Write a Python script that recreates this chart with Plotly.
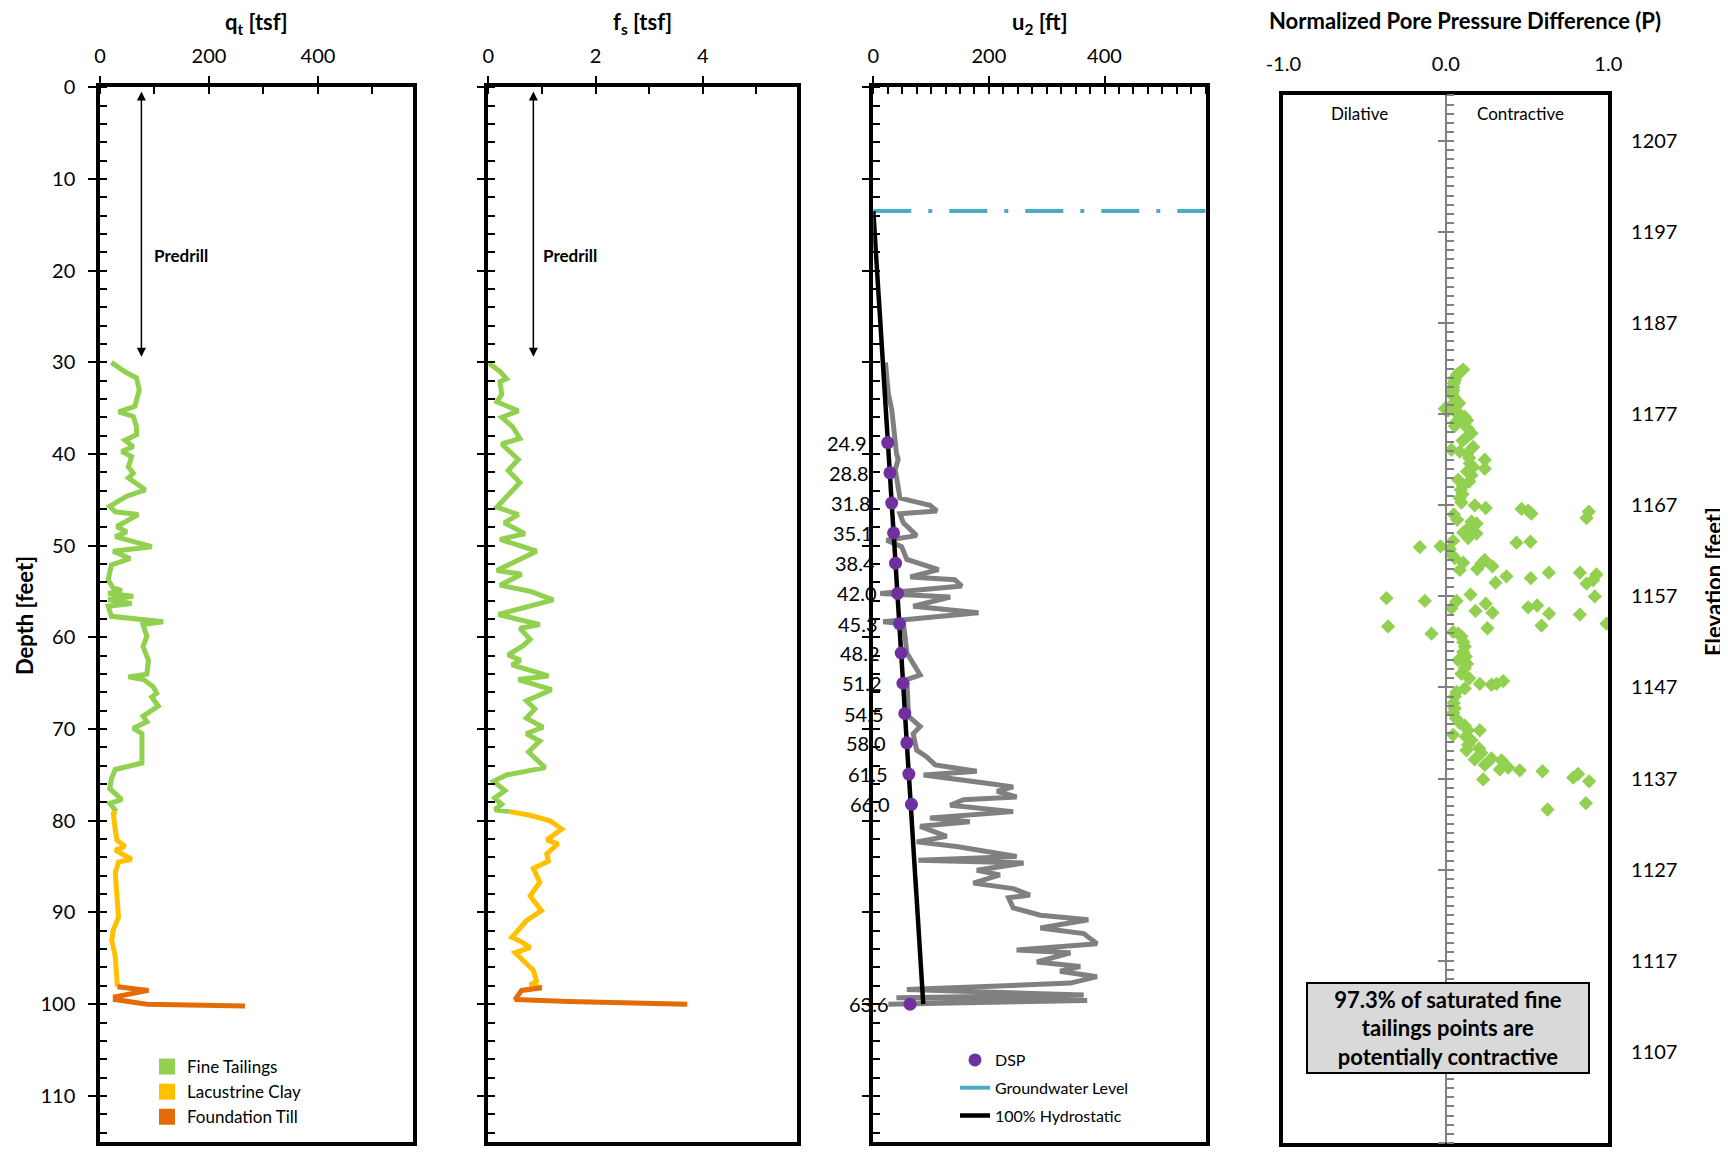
import plotly.graph_objects as go

W, H = 1728, 1153          # browser window
OFF = 8                    # default page body margin
FW, FH = W - OFF, H - OFF  # figure fills the window to its right/bottom edge
FONT = "Lato, 'Open Sans', sans-serif"

# ------------------------------------------------------------------ data
# q_t [tsf] vs depth [ft]
QT_TAIL_DEPTH = [30.0, 31.0, 31.7, 33.0, 34.8, 35.4, 35.9, 37.0, 37.9, 38.5, 39.2, 39.7, 40.3, 41.4,
                 42.1, 42.6, 43.9, 44.6, 45.7, 46.3, 46.6, 47.9, 48.5, 49.0, 50.1, 50.6, 51.4, 52.1,
                 53.7, 54.6, 54.9, 55.2, 55.5, 55.9, 56.3, 56.6, 57.7, 58.3, 58.6, 59.9, 61.0, 62.5,
                 64.0, 64.3, 64.6, 65.4, 66.1, 66.5, 67.5, 68.6, 69.2, 69.9, 70.5, 71.9, 73.7, 74.4,
                 75.4, 76.5, 77.7, 78.1, 79.0]
QT_TAIL = [21, 45, 67, 72, 64, 34, 61, 67, 67, 46, 61, 40, 58, 52,
           61, 52, 83, 49, 18, 28, 70, 31, 49, 28, 95, 24, 55, 21,
           15, 24, 40, 15, 61, 15, 58, 15, 21, 116, 79, 86, 79, 89,
           86, 52, 80, 98, 104, 95, 107, 79, 86, 61, 77, 77, 77, 28,
           21, 18, 40, 18, 30]
QT_CLAY_DEPTH = [79.0, 79.2, 81.0, 82.1, 82.8, 83.2, 84.2, 84.5, 85.7, 88.3, 90.5, 91.9, 93.0, 94.8, 96.6, 98.1]
QT_CLAY = [30, 24.5, 28, 31, 46, 28, 58, 34, 28, 31, 34, 24.5, 21.5, 28, 31, 32]
QT_TILL_DEPTH = [98.1, 98.3, 98.5, 99.2, 99.5, 100.0, 100.2]
QT_TILL = [32, 60, 89, 28, 28, 86, 266]

# f_s [tsf] vs depth [ft]
FS_TAIL_DEPTH = [30.05, 31.0, 31.8, 32.1, 33.5, 34.3, 35.3, 36.0, 37.0, 38.3, 38.9, 40.6, 41.8, 43.1,
                 45.8, 46.6, 47.5, 48.7, 49.3, 50.6, 52.7, 53.1, 54.3, 55.0, 55.9, 57.5, 58.6, 59.0,
                 60.2, 60.9, 61.9, 62.5, 63.0, 64.2, 64.6, 65.7, 66.9, 67.8, 68.8, 69.8, 70.5, 71.3,
                 72.5, 74.2, 75.0, 75.7, 76.7, 77.5, 78.2, 78.8, 79.0]
FS_TAIL = [0.0, 0.22, 0.34, 0.22, 0.25, 0.16, 0.56, 0.25, 0.45, 0.59, 0.25, 0.56, 0.37, 0.59,
           0.16, 0.56, 0.30, 0.68, 0.22, 0.90, 0.16, 0.62, 0.22, 0.80, 1.21, 0.19, 0.96, 0.59,
           0.78, 0.65, 0.37, 0.60, 0.44, 1.12, 0.56, 1.18, 0.71, 0.87, 0.71, 1.02, 0.71, 0.96,
           0.75, 1.06, 0.34, 0.10, 0.31, 0.12, 0.25, 0.12, 0.40]
FS_CLAY_DEPTH = [79.0, 79.4, 80.0, 80.9, 82.1, 82.5, 83.6, 84.4, 85.2, 86.7, 88.2, 89.8, 90.9,
                 92.7, 93.2, 93.8, 94.4, 95.2, 96.3, 97.5, 97.9, 98.2]
FS_CLAY = [0.40, 0.78, 1.15, 1.37, 1.09, 1.30, 1.09, 1.12, 0.84, 0.96, 0.78, 0.99, 0.71,
           0.44, 0.62, 0.78, 0.50, 0.65, 0.84, 0.90, 0.78, 1.00]
FS_TILL_DEPTH = [98.2, 98.5, 99.5, 99.7, 100.0]
FS_TILL = [1.00, 0.62, 0.50, 1.50, 3.71]

# u2 [ft] vs depth [ft]
U2_DEPTH = [30.0, 32.4, 33.4, 35.2, 37.3, 37.7, 39.9, 40.6, 41.7, 43.6, 44.8, 45.6, 46.2, 46.5,
            47.5, 48.9, 49.4, 50.1, 51.5, 52.6, 53.4, 53.7, 54.4, 55.2, 55.6, 56.6, 57.3, 58.3,
            58.5, 59.9, 61.7, 64.1, 64.6, 68.6, 69.7, 70.5, 72.3, 73.0, 73.9, 74.6, 75.0, 75.9,
            76.3, 76.8, 77.4, 77.7, 78.3, 79.0, 79.7, 80.1, 80.6, 81.7, 82.3, 82.8, 83.9, 84.3,
            84.6, 85.4, 85.9, 86.8, 87.4, 88.1, 88.4, 89.5, 90.3, 90.8, 91.7, 92.3, 93.4, 94.1,
            94.4, 95.4, 95.9, 96.4, 97.0, 97.7, 98.4, 99.0, 99.3, 99.6, 100.0]
U2 = [21, 26, 26, 32, 35, 35, 40, 43, 38, 43, 46, 98, 110, 46,
      52, 75, 23, 49, 58, 113, 64, 141, 153, 12, 133, 69, 182, 17,
      52, 55, 58, 81, 58, 61, 81, 69, 75, 92, 107, 179, 87, 196,
      242, 214, 248, 156, 133, 242, 98, 167, 81, 127, 75, 144, 248, 78,
      260, 179, 219, 173, 242, 271, 234, 242, 289, 372, 289, 364, 387, 248,
      341, 283, 358, 323, 387, 341, 58, 364, 40, 370, 26]

# Dissipation tests (DSP)
DSP_DEPTH = [38.75, 42.05, 45.35, 48.6, 51.9, 55.2, 58.5, 61.7, 65.0, 68.3, 71.5, 74.9, 78.2, 100.0]
DSP_U = [24.9, 28.8, 31.8, 35.1, 38.4, 42.0, 45.3, 48.2, 51.2, 54.5, 58.0, 61.5, 66.0, 63.6]

GWL_DEPTH = 13.5
HYDRO_DEPTH = [13.5, 100.0]
HYDRO_U = [0.0, 86.5]

# Normalized pore pressure difference vs elevation
P_VALUE = [0.107, 0.086, 0.070, 0.062, 0.055, 0.049, 0.045, 0.045, 0.041, 0.049, 0.066, 0.082, 0.035,
           -0.006, 0.014, 0.055, 0.086, 0.117, 0.131, 0.066, 0.107, 0.055, 0.137, 0.158, 0.123,
           0.103, 0.168, 0.035, 0.086, 0.131, 0.144, 0.240, 0.148, 0.168, 0.240, 0.131, 0.158,
           0.076, 0.144, 0.107, 0.092, 0.103, 0.086, 0.096, 0.178, 0.246, 0.466, 0.507, 0.527,
           0.880, 0.866, 0.049, 0.070, 0.158, 0.189, 0.144, 0.107, 0.189, 0.137, 0.045, 0.435,
           0.521, -0.160, -0.033, 0.025, 0.035, 0.055, 0.107, 0.240, 0.219, 0.287, 0.086, 0.193,
           0.306, 0.373, 0.523, 0.634, 0.825, 0.927, 0.866, 0.907, 0.917, -0.365, -0.129, 0.152,
           0.066, 0.035, 0.246, 0.183, 0.287, 0.507, 0.562, 0.636, 0.825, -0.355, -0.088, 0.256,
           0.589, 0.989, 0.045, 0.076, 0.096, 0.107, 0.117, 0.107, 0.123, 0.076, 0.131, 0.117,
           0.096, 0.144, 0.209, 0.281, 0.312, 0.353, 0.117, 0.066, 0.055, 0.049, 0.055, 0.045,
           0.062, 0.086, 0.117, 0.137, 0.209, 0.045, 0.123, 0.158, 0.137, 0.205, 0.127, 0.219,
           0.178, 0.281, 0.240, 0.343, 0.332, 0.384, 0.455, 0.595, 0.784, 0.814, 0.882, 0.230,
           0.862, 0.626]
ELEV_FT = [1181.9, 1181.6, 1181.4, 1181.1, 1180.7, 1180.4, 1180.0, 1179.6, 1179.3, 1178.9, 1178.5,
           1178.2, 1178.0, 1177.6, 1177.4, 1177.3, 1177.0, 1176.7, 1176.3, 1176.2, 1176.0, 1175.7,
           1175.4, 1174.9, 1174.4, 1174.1, 1173.4, 1173.1, 1172.9, 1172.7, 1172.2, 1172.0, 1171.6,
           1171.2, 1171.0, 1170.7, 1170.3, 1169.8, 1169.6, 1169.2, 1168.7, 1168.2, 1167.8, 1167.3,
           1167.0, 1166.7, 1166.6, 1166.4, 1166.1, 1166.3, 1165.6, 1166.0, 1165.4, 1165.2, 1165.0,
           1164.6, 1164.0, 1163.9, 1163.4, 1163.1, 1162.9, 1163.0, 1162.4, 1162.5, 1162.2, 1161.6,
           1161.2, 1160.7, 1161.0, 1160.6, 1160.3, 1159.9, 1160.0, 1158.5, 1159.2, 1159.0, 1159.6,
           1159.6, 1159.4, 1158.4, 1158.8, 1157.0, 1156.8, 1156.5, 1157.2, 1156.5, 1155.7, 1156.2,
           1155.4, 1155.2, 1155.8, 1156.0, 1155.1, 1155.0, 1153.7, 1152.9, 1153.5, 1153.8, 1154.0,
           1153.1, 1152.9, 1152.6, 1152.0, 1151.5, 1150.9, 1150.4, 1150.0, 1149.6, 1149.1, 1148.5,
           1148.0, 1147.4, 1147.3, 1147.4, 1147.7, 1146.9, 1146.5, 1146.0, 1145.3, 1144.7, 1144.2,
           1143.6, 1143.1, 1142.8, 1142.3, 1142.3, 1141.8, 1141.6, 1141.2, 1140.7, 1140.3, 1140.1,
           1139.8, 1139.1, 1139.2, 1138.5, 1139.0, 1138.0, 1138.2, 1137.9, 1137.8, 1137.1, 1137.5,
           1136.7, 1136.9, 1134.3, 1133.6]

DEPTH_TICKS = list(range(0, 111, 10))
ELEV_TICKS = list(range(1097, 1208, 10))
P_TICKS = [-1.0, 0.0, 1.0]
P_TICK_TEXT = ["-1.0", "0.0", "1.0"]

C_TAIL, C_CLAY, C_TILL = "#92D050", "#FFC000", "#E36C09"
C_U2, C_DSP, C_GWL = "#808080", "#7030A0", "#4BACC6"


def fx(X):
    return (X - OFF) / FW


def fy(Y):
    return 1 - (Y - OFF) / FH


fig = go.Figure()

# ---- panel 1: qt
for d, v, c in [(QT_TAIL_DEPTH, QT_TAIL, C_TAIL), (QT_CLAY_DEPTH, QT_CLAY, C_CLAY),
                (QT_TILL_DEPTH, QT_TILL, C_TILL)]:
    fig.add_trace(go.Scatter(x=v, y=d, mode="lines", line=dict(color=c, width=5),
                             xaxis="x", yaxis="y", showlegend=False))
# ---- panel 2: fs
for d, v, c in [(FS_TAIL_DEPTH, FS_TAIL, C_TAIL), (FS_CLAY_DEPTH, FS_CLAY, C_CLAY),
                (FS_TILL_DEPTH, FS_TILL, C_TILL)]:
    fig.add_trace(go.Scatter(x=v, y=d, mode="lines", line=dict(color=c, width=5),
                             xaxis="x2", yaxis="y2", showlegend=False))
# lithology legend (squares)
for name, c in [("Fine Tailings", C_TAIL), ("Lacustrine Clay", C_CLAY), ("Foundation Till", C_TILL)]:
    fig.add_trace(go.Scatter(x=[None], y=[None], mode="markers", name=name,
                             marker=dict(symbol="square", size=16, color=c),
                             xaxis="x", yaxis="y", legend="legend", legendgroup=name))

# ---- panel 3: u2
fig.add_trace(go.Scatter(x=[0, 575], y=[GWL_DEPTH, GWL_DEPTH], mode="lines",
                         line=dict(color=C_GWL, width=4, dash="38px,17px,4px,17px"),
                         xaxis="x3", yaxis="y3", name="Groundwater Level",
                         legend="legend2", legendgroup="g2", legendrank=2))
fig.add_trace(go.Scatter(x=U2, y=U2_DEPTH, mode="lines", line=dict(color=C_U2, width=5),
                         xaxis="x3", yaxis="y3", showlegend=False))
fig.add_trace(go.Scatter(x=HYDRO_U, y=HYDRO_DEPTH, mode="lines", line=dict(color="black", width=4.5),
                         xaxis="x3", yaxis="y3", name="100% Hydrostatic",
                         legend="legend2", legendgroup="g3", legendrank=3))
fig.add_trace(go.Scatter(x=DSP_U, y=DSP_DEPTH, mode="markers",
                         marker=dict(color=C_DSP, size=13), cliponaxis=False,
                         xaxis="x3", yaxis="y3", name="DSP",
                         legend="legend2", legendgroup="g1", legendrank=1))

# ---- panel 4: normalized pore pressure difference
fig.add_trace(go.Scatter(x=P_VALUE, y=ELEV_FT, mode="markers",
                         marker=dict(symbol="diamond", size=11, color=C_TAIL),
                         xaxis="x4", yaxis="y4", showlegend=False))
fig.add_trace(go.Scatter(x=[None], y=[None], mode="markers", xaxis="x4", yaxis="y5",
                         showlegend=False))

# ------------------------------------------------------------------ axes
Y_DOM = [fy(1141.7), fy(87.3)]
frame = dict(showline=True, linecolor="black", linewidth=3.5, mirror=True,
             showgrid=False, zeroline=False, automargin=False)
tickfont = dict(size=20, color="black", family=FONT)


def xtop(dom, rng, dtick, minor, anchor):
    return dict(domain=dom, range=rng, anchor=anchor, side="top", dtick=dtick, tick0=0,
                ticks="outside", ticklen=8, tickwidth=2, tickcolor="black",
                minor=dict(ticks="inside", ticklen=7, tickwidth=2, dtick=minor, tickcolor="black"),
                tickfont=tickfont, ticklabelstandoff=5, **frame)


def ydepth(anchor, labels):
    return dict(domain=Y_DOM, range=[115, 0], anchor=anchor, tickvals=DEPTH_TICKS,
                ticks="outside", ticklen=8, tickwidth=2, tickcolor="black",
                minor=dict(ticks="inside", ticklen=7, tickwidth=2, dtick=2, tickcolor="black"),
                showticklabels=labels, tickfont=tickfont, ticklabelstandoff=9, **frame)


X4_DOM = [fx(1283.3), fx(1608.3)]
fig.update_layout(
    width=FW, height=FH, autosize=False,
    margin=dict(l=0, r=0, t=0, b=0, pad=0),
    paper_bgcolor="white", plot_bgcolor="white",
    font=dict(family=FONT, color="black"),
    xaxis=xtop([fx(100), fx(413.3)], [0, 575], 200, 100, "y"),
    xaxis2=xtop([fx(488.3), fx(796.7)], [0, 5.75], 2, 1, "y2"),
    xaxis3=xtop([fx(873.3), fx(1205.7)], [0, 575], 200, 25, "y3"),
    yaxis=ydepth("x", True),
    yaxis2=ydepth("x2", False),
    yaxis3=ydepth("x3", False),
    xaxis4=dict(domain=X4_DOM, range=[-1, 1], anchor="y4", side="top", tickvals=P_TICKS,
                ticktext=P_TICK_TEXT, ticks="", tickfont=tickfont, ticklabelstandoff=13, **frame),
    yaxis4=dict(domain=[fy(1142.9), fy(95.4)], range=[1097, 1212], anchor="x4", side="right",
                tickvals=ELEV_TICKS, ticks="", tickfont=tickfont, ticklabelstandoff=15, **frame),
    yaxis5=dict(overlaying="y4", anchor="free", position=fx(1445.8), side="left",
                range=[1097, 1212], tick0=1097, dtick=10, ticks="outside", ticklen=7,
                tickwidth=1.5, tickcolor="#808080", showticklabels=False,
                minor=dict(ticks="inside", ticklen=7, tickwidth=1.5, dtick=1, tickcolor="#808080"),
                showline=True, linecolor="#808080", linewidth=2, showgrid=False, zeroline=False,
                automargin=False),
    legend=dict(x=fx(147), y=fy(1049), xanchor="left", yanchor="top",
                font=dict(size=17, family=FONT, color="black"), bgcolor="rgba(0,0,0,0)",
                tracegroupgap=0, traceorder="grouped"),
    legend2=dict(x=fx(955), y=fy(1043), xanchor="left", yanchor="top",
                 font=dict(size=16, family=FONT, color="black"), bgcolor="rgba(0,0,0,0)",
                 tracegroupgap=4, traceorder="grouped"),
)

# ------------------------------------------------------------------ annotations
ann = []


def title(text, X, Y, size=22, angle=0):
    ann.append(dict(text=text, x=fx(X), y=fy(Y), xref="paper", yref="paper", showarrow=False,
                    xanchor="center", yanchor="middle", textangle=angle,
                    font=dict(size=size, family=FONT, color="black")))


title("<b>q<sub>t</sub> [tsf]</b>", 256.5, 23)
title("<b>f<sub>s</sub> [tsf]</b>", 642.5, 23)
title("<b>u<sub>2</sub> [ft]</b>", 1039.5, 23)
title("<b>Normalized Pore Pressure Difference (P)</b>", 1465, 20.5)
title("<b>Depth [feet]</b>", 24, 616, angle=-90)
title("<b>Elevation [feet]</b>", 1713, 582, angle=-90)
title("Dilative", 1359, 114, size=17)
title("Contractive", 1520, 114, size=17)

# DSP value labels
for u, d in zip(DSP_U, DSP_DEPTH):
    ann.append(dict(x=u, y=d, xref="x3", yref="y3", text=f"{u:.1f}", showarrow=False,
                    xanchor="right", yanchor="middle", xshift=-19,
                    font=dict(size=20, family=FONT, color="black")))

# Predrill arrows
for xa, ya, xv, txt_x in [("x", "y", 76, 95), ("x2", "y2", 0.84, 0.99)]:
    ann.append(dict(x=xv, y=29.4, ax=xv, ay=0.3, xref=xa, yref=ya, axref=xa, ayref=ya,
                    text="", showarrow=True, arrowhead=2, startarrowhead=2,
                    arrowside="end+start", arrowwidth=1.5, arrowsize=1.2, arrowcolor="black"))
    ann.append(dict(x=txt_x, y=18.3, xref=xa, yref=ya, text="<b>Predrill</b>", showarrow=False,
                    xanchor="left", yanchor="middle",
                    font=dict(size=17, family=FONT, color="black")))

ann.append(dict(text="<b>97.3% of saturated fine<br>tailings points are<br>potentially contractive</b>",
                x=fx(1448), y=fy(1028), xref="paper", yref="paper", showarrow=False,
                xanchor="center", yanchor="middle", align="center",
                font=dict(size=22, family=FONT, color="black"),
                bgcolor="#D9D9D9", bordercolor="black", borderwidth=2, borderpad=2,
                width=276, height=84))
fig.update_layout(annotations=ann)

fig.write_html("out.html")
